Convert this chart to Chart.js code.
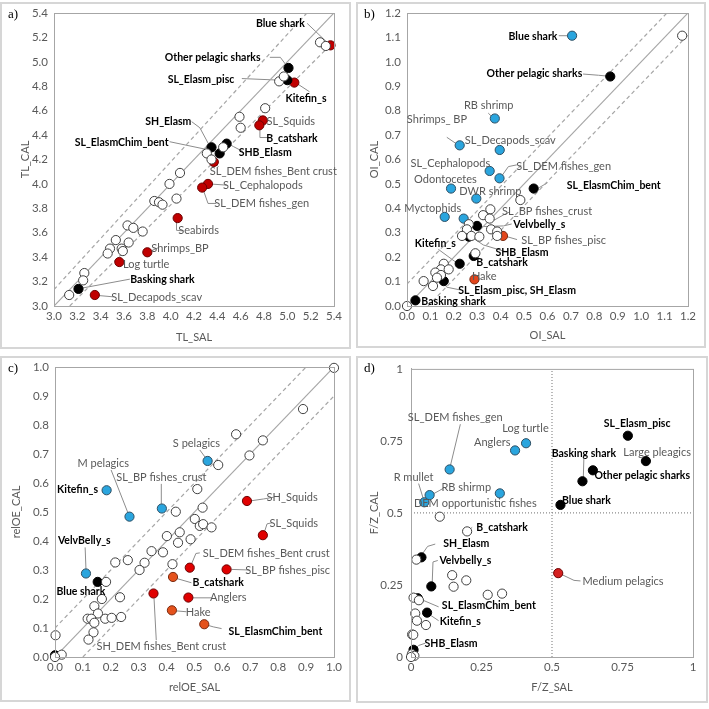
<!DOCTYPE html>
<html>
<head>
<meta charset="utf-8">
<title>SAL vs CAL indicators</title>
<script src="https://cdn.jsdelivr.net/npm/chart.js"></script>
<style>
  body{margin:0;background:#fff;}
  .frame{position:absolute;border:2px solid #d6d6d6;box-sizing:border-box;}
  .cv{position:absolute;}
  .tag{position:absolute;font:13px "Liberation Serif",serif;color:#000;}
</style>
</head>
<body>
<div class="frame" style="left:0;top:2px;width:351px;height:347px"></div>
<div class="frame" style="left:356px;top:2px;width:350px;height:346px"></div>
<div class="frame" style="left:0;top:356px;width:351px;height:346px"></div>
<div class="frame" style="left:356px;top:356px;width:352px;height:347px"></div>
<canvas id="ca" class="cv" width="354" height="354" style="left:0;top:0"></canvas>
<canvas id="cb" class="cv" width="354" height="354" style="left:354px;top:0"></canvas>
<canvas id="cc" class="cv" width="354" height="354" style="left:0;top:354px"></canvas>
<canvas id="cd" class="cv" width="354" height="354" style="left:354px;top:354px"></canvas>
<div class="tag" style="left:8px;top:6px">a)</div>
<div class="tag" style="left:364px;top:6px">b)</div>
<div class="tag" style="left:8px;top:360px">c)</div>
<div class="tag" style="left:364px;top:360px">d)</div>
<script>
// ---------- a) TL ----------
const a_open = [[5.28,5.16],[5.33,5.13],[4.93,4.84],[4.97,4.88],[4.81,4.62],[4.59,4.55],[4.60,4.46],[4.31,4.25],[4.45,4.30],[4.35,4.20],
  [4.08,4.09],[3.99,4.00],[4.05,3.88],[3.86,3.86],[3.90,3.85],[3.93,3.83],[3.63,3.66],[3.68,3.64],[3.76,3.61],[3.53,3.54],
  [3.48,3.47],[3.46,3.43],[3.58,3.47],[3.59,3.45],[3.64,3.52],[3.26,3.27],[3.25,3.21],[3.13,3.09]];
const a_black = [[5.01,4.95],[5.00,4.85],[4.35,4.30],[4.42,4.25],[4.48,4.33],[3.21,3.14]];
const a_red = [[5.37,5.135],[5.06,4.83],[4.79,4.52],[4.76,4.48],[4.37,4.18],[4.32,4.00],[4.27,3.97],[4.06,3.72],[3.80,3.44],[3.56,3.36],[3.35,3.09]];
const a_notes = [
  {t:'Blue shark', b:1, x:4.94, y:5.315, line:[[5.17,5.315],[5.34,5.16]]},
  {t:'Other pelagic sharks', b:1, x:4.36, y:5.035, line:[[4.85,5.037],[4.94,5.037],[5.0,4.96]]},
  {t:'SL_Elasm_pisc', b:1, x:4.26, y:4.855, line:[[4.61,4.863],[4.98,4.848]]},
  {t:'Kitefin_s', b:1, x:5.16, y:4.695, line:[[5.19,4.755],[5.07,4.83]]},
  {t:'SL_Squids', b:0, x:5.03, y:4.515},
  {t:'B_catshark', b:1, x:5.04, y:4.375, line:[[4.83,4.38],[4.765,4.38],[4.765,4.47]]},
  {t:'SH_Elasm', b:1, x:3.98, y:4.51, line:[[4.18,4.51],[4.25,4.46],[4.34,4.30]]},
  {t:'SL_ElasmChim_bent', b:1, x:3.58, y:4.34, line:[[3.99,4.346],[4.42,4.26]]},
  {t:'SHB_Elasm', b:1, x:4.81, y:4.26, line:[[4.62,4.265],[4.54,4.305],[4.49,4.33]]},
  {t:'SL_DEM fishes_Bent crust', b:0, x:4.88, y:4.10, line:[[4.41,4.14],[4.37,4.18]]},
  {t:'SL_Cephalopods', b:0, x:4.79, y:3.985, line:[[4.48,3.99],[4.33,4.0]]},
  {t:'SL_DEM fishes_gen', b:0, x:4.78, y:3.84, line:[[4.39,3.84],[4.32,3.84],[4.28,3.95]]},
  {t:'Seabirds', b:0, x:4.24, y:3.62, line:[[4.11,3.615],[4.05,3.62],[4.05,3.70]]},
  {t:'Shrimps_BP', b:0, x:4.08, y:3.475, line:[[3.90,3.48],[3.84,3.455]]},
  {t:'Log turtle', b:0, x:3.79, y:3.34},
  {t:'Basking shark', b:1, x:3.93, y:3.22, line:[[3.65,3.22],[3.23,3.145]]},
  {t:'SL_Decapods_scav', b:0, x:3.88, y:3.07, line:[[3.51,3.075],[3.39,3.085]]}
];

// ---------- b) OI ----------
const b_open = [[1.175,1.107],[0.484,0.434],[0.356,0.396],[0.325,0.372],[0.353,0.358],[0.264,0.335],[0.256,0.314],[0.235,0.287],
  [0.275,0.287],[0.309,0.284],[0.359,0.314],[0.385,0.305],[0.385,0.287],[0.292,0.216],[0.157,0.173],[0.145,0.150],[0.178,0.150],
  [0.121,0.137],[0.145,0.127],[0.128,0.116],[0.071,0.102],[0.111,0.082],[0.0,0.0]];
const b_blue = [[0.705,1.107],[0.375,0.768],[0.225,0.658],[0.396,0.639],[0.353,0.553],[0.395,0.523],[0.188,0.481],[0.296,0.44],[0.161,0.365],[0.242,0.358]];
const b_black = [[0.868,0.94],[0.541,0.481],[0.299,0.328],[0.264,0.284],[0.285,0.205],[0.225,0.173],[0.157,0.102],[0.036,0.023]];
const b_orange = [[0.41,0.287],[0.288,0.109]];
const b_notes = [
  {t:'Blue shark', b:1, x:0.538, y:1.105, line:[[0.648,1.107],[0.69,1.107]]},
  {t:'Other pelagic sharks', b:1, x:0.544, y:0.95, line:[[0.752,0.95],[0.818,0.945],[0.861,0.941]]},
  {t:'RB shrimp', b:0, x:0.349, y:0.821, line:[[0.347,0.79],[0.37,0.768]]},
  {t:'Shrimps_ BP', b:0, x:0.128, y:0.764, line:[[0.17,0.691],[0.21,0.665]]},
  {t:'SL_Decapods_scav', b:0, x:0.441, y:0.677},
  {t:'SL_Cephalopods', b:0, x:0.185, y:0.584},
  {t:'SL_DEM fishes_gen', b:0, x:0.669, y:0.57, line:[[0.469,0.578],[0.433,0.571],[0.405,0.533]]},
  {t:'Odontocetes', b:0, x:0.164, y:0.518},
  {t:'SL_ElasmChim_bent', b:1, x:0.883, y:0.495, line:[[0.60,0.505],[0.565,0.485]]},
  {t:'DWR shrimp', b:0, x:0.356, y:0.471},
  {t:'Myctophids', b:0, x:0.11, y:0.40},
  {t:'SL_BP fishes_crust', b:0, x:0.598, y:0.386, line:[[0.44,0.386],[0.412,0.373],[0.369,0.35]]},
  {t:'Velvbelly_s', b:1, x:0.565, y:0.332, line:[[0.447,0.336],[0.412,0.328],[0.312,0.325]]},
  {t:'SL_BP fishes_pisc', b:0, x:0.669, y:0.267, line:[[0.47,0.272],[0.42,0.286]]},
  {t:'Kitefin_s', b:1, x:0.121, y:0.256, line:[[0.134,0.232],[0.212,0.177]]},
  {t:'SHB_Elasm', b:1, x:0.491, y:0.22, line:[[0.419,0.223],[0.326,0.25],[0.276,0.282]]},
  {t:'B_catshark', b:1, x:0.406, y:0.179},
  {t:'Hake', b:0, x:0.33, y:0.123},
  {t:'SL_Elasm_pisc, SH_Elasm', b:1, x:0.47, y:0.065, line:[[0.226,0.066],[0.17,0.077],[0.157,0.095]]},
  {t:'Basking shark', b:1, x:0.199, y:0.018}
];

// ---------- c) relOE ----------
const c_open = [[1.0,0.997],[0.889,0.855],[0.649,0.768],[0.745,0.747],[0.585,0.662],[0.697,0.695],[0.51,0.579],[0.529,0.515],
  [0.433,0.501],[0.501,0.476],[0.519,0.452],[0.531,0.458],[0.561,0.447],[0.401,0.417],[0.447,0.43],[0.441,0.394],[0.486,0.406],
  [0.346,0.365],[0.387,0.361],[0.216,0.326],[0.261,0.334],[0.321,0.325],[0.303,0.3],[0.421,0.32],[0.183,0.259],[0.168,0.2],
  [0.233,0.206],[0.141,0.175],[0.154,0.15],[0.117,0.132],[0.13,0.132],[0.141,0.118],[0.18,0.132],[0.203,0.135],[0.237,0.138],
  [0.138,0.085],[0.12,0.06],[0.002,0.075],[0.024,0.008],[0.0,0.0]];
const c_blue = [[0.547,0.676],[0.185,0.575],[0.267,0.484],[0.383,0.512],[0.111,0.288]];
const c_black = [[0.153,0.259],[0.0,0.006]];
const c_red = [[0.688,0.538],[0.745,0.42],[0.483,0.308],[0.615,0.302],[0.478,0.205],[0.353,0.219]];
const c_orange = [[0.423,0.276],[0.419,0.161],[0.535,0.113]];
const c_notes = [
  {t:'S pelagics', b:0, x:0.507, y:0.737, line:[[0.519,0.714],[0.541,0.685]]},
  {t:'M pelagics', b:0, x:0.173, y:0.668, line:[[0.201,0.645],[0.261,0.498]]},
  {t:'SL_BP fishes_crust', b:0, x:0.381, y:0.62, line:[[0.381,0.597],[0.381,0.528]]},
  {t:'Kitefin_s', b:1, x:0.081, y:0.576},
  {t:'SH_Squids', b:0, x:0.85, y:0.55, line:[[0.784,0.551],[0.748,0.545],[0.705,0.539]]},
  {t:'SL_Squids', b:0, x:0.856, y:0.459, line:[[0.778,0.463],[0.76,0.459],[0.751,0.432]]},
  {t:'VelvBelly_s', b:1, x:0.105, y:0.403, line:[[0.108,0.378],[0.111,0.302]]},
  {t:'SL_DEM fishes_Bent crust', b:0, x:0.757, y:0.357, line:[[0.519,0.359],[0.505,0.357],[0.489,0.32]]},
  {t:'SL_BP fishes_pisc', b:0, x:0.834, y:0.297, line:[[0.697,0.3],[0.633,0.302]]},
  {t:'B_catshark', b:1, x:0.585, y:0.256, line:[[0.489,0.256],[0.435,0.271]]},
  {t:'Blue shark', b:1, x:0.093, y:0.225},
  {t:'Anglers', b:0, x:0.621, y:0.204, line:[[0.561,0.204],[0.493,0.204]]},
  {t:'Hake', b:0, x:0.513, y:0.153, line:[[0.471,0.156],[0.435,0.159]]},
  {t:'SL_ElasmChim_bent', b:1, x:0.79, y:0.086, line:[[0.597,0.098],[0.567,0.104],[0.549,0.109]]},
  {t:'SH_DEM fishes_Bent crust', b:0, x:0.381, y:0.035, line:[[0.363,0.058],[0.355,0.202]]}
];

// ---------- d) F/Z ----------
const d_open = [[0.102,0.487],[0.199,0.436],[0.019,0.338],[0.146,0.284],[0.196,0.266],[0.151,0.244],[0.272,0.216],[0.323,0.22],
  [0.009,0.206],[0.028,0.197],[0.015,0.151],[0.021,0.126],[0.053,0.111],[0.004,0.078],[0.008,0.077],[0.003,0.01],[0.012,0.004],[0.0,0.0]];
const d_blue = [[0.137,0.651],[0.408,0.742],[0.369,0.717],[0.047,0.537],[0.066,0.562],[0.315,0.568]];
const d_black = [[0.769,0.768],[0.833,0.68],[0.645,0.648],[0.608,0.61],[0.53,0.528],[0.037,0.346],[0.072,0.245],[0.024,0.204],[0.057,0.154],[0.009,0.025]];
const d_red = [[0.522,0.291]];
const d_notes = [
  {t:'SL_DEM fishes_gen', b:0, x:0.157, y:0.831, line:[[0.175,0.808],[0.14,0.665]]},
  {t:'Log turtle', b:0, x:0.406, y:0.794},
  {t:'Anglers', b:0, x:0.288, y:0.743},
  {t:'SL_Elasm_pisc', b:1, x:0.802, y:0.811},
  {t:'Large pleagics', b:0, x:0.873, y:0.709},
  {t:'Basking shark', b:1, x:0.613, y:0.705, line:[[0.613,0.688],[0.611,0.622]]},
  {t:'Other pelagic sharks', b:1, x:0.82, y:0.628},
  {t:'R mullet', b:0, x:0.009, y:0.622, line:[[0.027,0.602],[0.045,0.545]]},
  {t:'RB shirmp', b:0, x:0.196, y:0.587, line:[[0.114,0.585],[0.075,0.564]]},
  {t:'DEM opportunistic fishes', b:0, x:0.228, y:0.533},
  {t:'Blue shark', b:1, x:0.622, y:0.542},
  {t:'B_catshark', b:1, x:0.323, y:0.45, line:[[0.217,0.45],[0.205,0.44]]},
  {t:'SH_Elasm', b:1, x:0.196, y:0.392, line:[[0.086,0.392],[0.059,0.384],[0.039,0.356]]},
  {t:'Velvbelly_s', b:1, x:0.193, y:0.335, line:[[0.095,0.335],[0.078,0.33],[0.075,0.252]]},
  {t:'Medium pelagics', b:0, x:0.752, y:0.261, line:[[0.601,0.264],[0.578,0.266],[0.533,0.287]]},
  {t:'SL_ElasmChim_bent', b:1, x:0.276, y:0.178, line:[[0.098,0.174],[0.033,0.201]]},
  {t:'Kitefin_s', b:1, x:0.175, y:0.124, line:[[0.098,0.126],[0.063,0.149]]},
  {t:'SHB_Elasm', b:1, x:0.142, y:0.046, line:[[0.051,0.048],[0.027,0.04],[0.012,0.025]]}
];

Chart.defaults.font.family = 'Lato';
Chart.defaults.animation = false;

const pts = arr => arr.map(p => ({x:p[0], y:p[1]}));

function dots(arr, fill, edge) {
  return {type:'scatter', data:pts(arr), backgroundColor:fill, borderColor:edge, borderWidth:1,
          pointRadius:4.6, clip:false, order:0};
}
function refLine(p0, p1, dash, col) {
  return {type:'line', data:pts([p0, p1]), borderColor:col || '#a6a6a6', borderWidth:1.2,
          borderDash:dash || [], pointRadius:0, fill:false, order:10};
}

// leader lines, labels, axis titles and frame around the plot area
function notesPlugin(notes, titles) {
  return {
    id:'notes',
    beforeDatasetsDraw(chart) {
      const {ctx, scales:{x, y}} = chart;
      ctx.save();
      ctx.strokeStyle = '#8c8c8c';
      ctx.lineWidth = 1;
      notes.forEach(n => {
        if (!n.line) return;
        ctx.beginPath();
        n.line.forEach((p, i) => {
          const px = x.getPixelForValue(p[0]), py = y.getPixelForValue(p[1]);
          if (i) ctx.lineTo(px, py); else ctx.moveTo(px, py);
        });
        ctx.stroke();
      });
      ctx.restore();
    },
    afterDatasetsDraw(chart) {
      const {ctx, scales:{x, y}, chartArea:ca} = chart;
      ctx.save();
      ctx.strokeStyle = '#a6a6a6';
      ctx.lineWidth = 1;
      ctx.strokeRect(ca.left + 0.5, ca.top + 0.5, ca.right - ca.left, ca.bottom - ca.top);
      ctx.textAlign = 'center';
      ctx.textBaseline = 'middle';
      notes.forEach(n => {
        ctx.font = (n.b ? 'bold 10.5px ' : '11px ') + 'Lato';
        ctx.fillStyle = n.b ? '#000' : '#595959';
        ctx.fillText(n.t, x.getPixelForValue(n.x), y.getPixelForValue(n.y));
      });
      ctx.font = '11px Lato';
      ctx.fillStyle = '#595959';
      ctx.fillText(titles.x, (ca.left + ca.right) / 2, titles.xAt);
      ctx.translate(titles.yAt, (ca.top + ca.bottom) / 2);
      ctx.rotate(-Math.PI / 2);
      ctx.fillText(titles.y, 0, 0);
      ctx.restore();
    }
  };
}

function axis(min, max, step, size, fmt, pad) {
  return {
    type:'linear', min:min, max:max,
    ticks:{stepSize:step, color:'#595959', font:{size:11.5}, padding:pad, autoSkip:false, maxRotation:0,
           callback: fmt},
    grid:{display:false, drawTicks:false},
    border:{display:true, color:'#a6a6a6'},
    title:{display:false},
    afterFit(s) { if (s.isHorizontal()) s.height = size; else s.width = size; }
  };
}

const one = v => v.toFixed(1);

function makeChart(id, datasets, notes, titles, xs, ys, padding) {
  new Chart(document.getElementById(id), {
    data:{datasets:datasets},
    options:{
      responsive:false,
      layout:{padding:padding},
      plugins:{legend:{display:false}, tooltip:{enabled:false}},
      scales:{x:xs, y:ys}
    },
    plugins:[notesPlugin(notes, titles)]
  });
}

// a)
const aK = 1.045;
makeChart('ca', [
  refLine([3.0, 3.0], [5.4, 5.4]),
  refLine([3.0, 3.0 * aK], [5.4 / aK, 5.4], [4, 3]),
  refLine([3.0 * aK, 3.0], [5.4, 5.4 / aK], [4, 3]),
  dots(a_open, '#fff', '#404040'),
  dots(a_black, '#000', '#000'),
  dots(a_red, '#c00000', '#6b0000')
], a_notes, {x:'TL_SAL', y:'TL_CAL', xAt:337, yAt:25},
  axis(3.0, 5.4, 0.2, 40, one, 3),
  axis(3.0, 5.4, 0.2, 38, one, 6),
  {left:16, top:13, right:20, bottom:8});

// b)
const bOff = 0.09;
makeChart('cb', [
  refLine([0, 0], [1.2, 1.2]),
  refLine([0, bOff], [1.2 - bOff, 1.2], [4, 3]),
  refLine([bOff, 0], [1.2, 1.2 - bOff], [4, 3]),
  dots(b_open, '#fff', '#404040'),
  dots(b_black, '#000', '#000'),
  dots(b_blue, '#2aa5de', '#2f4f63'),
  dots(b_orange, '#e2461c', '#7a2a10')
], b_notes, {x:'OI_SAL', y:'OI_CAL', xAt:335, yAt:20},
  axis(0, 1.2, 0.1, 40, one, 3),
  axis(0, 1.2, 0.1, 38, one, 6),
  {left:15, top:13, right:20, bottom:8});

// c)
const cOff = 0.1;
makeChart('cc', [
  refLine([0, 0], [1, 1]),
  refLine([0, cOff], [1 - cOff, 1], [4, 3]),
  refLine([cOff, 0], [1, 1 - cOff], [4, 3]),
  dots(c_open, '#fff', '#404040'),
  dots(c_black, '#000', '#000'),
  dots(c_blue, '#2aa5de', '#2f4f63'),
  dots(c_red, '#e00000', '#6b0000'),
  dots(c_orange, '#e4521c', '#7a2a10')
], c_notes, {x:'relOE_SAL', y:'relOE_CAL', xAt:333, yAt:16},
  axis(0, 1, 0.1, 40, one, 3),
  axis(0, 1, 0.1, 38, one, 6),
  {left:17, top:13, right:20, bottom:11});

// d)
makeChart('cd', [
  refLine([0.5, 0], [0.5, 1], [1, 2], '#8c8c8c'),
  refLine([0, 0.5], [1, 0.5], [1, 2], '#8c8c8c'),
  dots(d_open, '#fff', '#404040'),
  dots(d_black, '#000', '#000'),
  dots(d_blue, '#2aa5de', '#2f4f63'),
  dots(d_red, '#d42020', '#6b0000')
], d_notes, {x:'F/Z_SAL', y:'F/Z_CAL', xAt:333, yAt:20},
  axis(0, 1, 0.25, 40, v => String(v), 3),
  axis(0, 1, 0.25, 38, v => String(v), 8),
  {left:19, top:13, right:15, bottom:11});
</script>
</body>
</html>
